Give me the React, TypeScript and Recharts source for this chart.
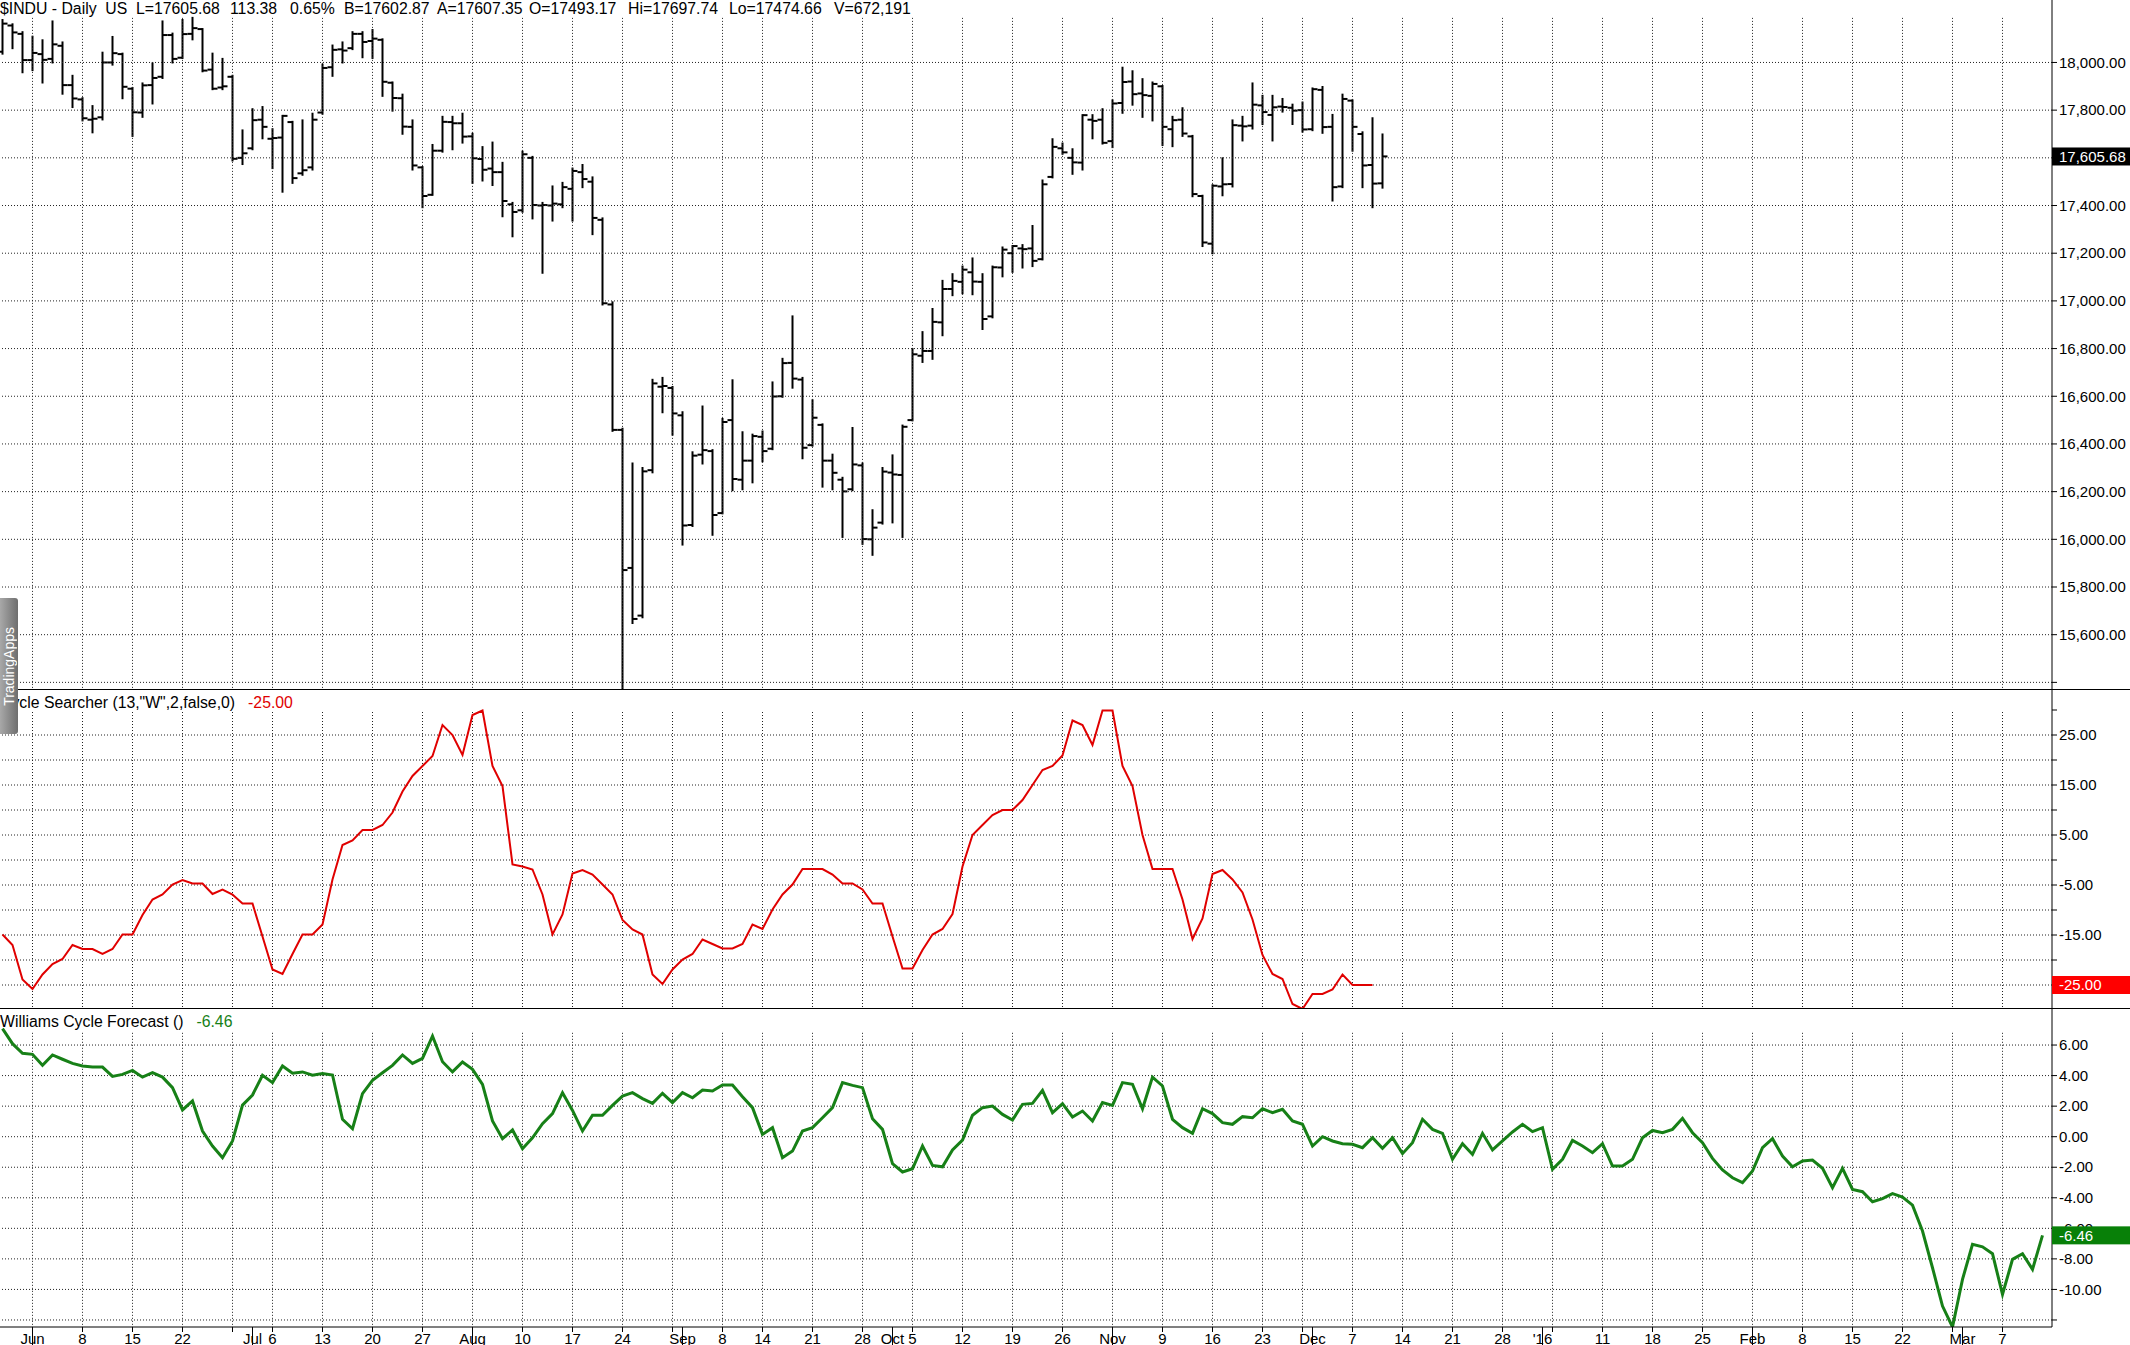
import React from "react";
import { ComposedChart, Bar, Line, XAxis, YAxis, ReferenceLine } from "recharts";

// trading-day index: 0 = Jun 1 2015, series start three sessions earlier
const FIRST_DAY = -3;

const opens = [
  18045, 18155, 18120, 18010, 18035, 18015, 18070, 17905, 17845, 17760, 17770, 18000, 18035, 17890, 17790, 17905, 17940, 18115, 18020, 18120,
  18140, 17970, 17895, 17940, 17600, 17640, 17760, 17680, 17685, 17750, 17535, 17560, 17790, 17980, 18055, 18060, 18120, 18090, 18095, 17915,
  17850, 17730, 17560, 17445, 17630, 17750, 17745, 17690, 17595, 17555, 17540, 17405, 17380, 17600, 17400, 17400, 17405, 17470, 17540, 17500,
  17340, 16985, 16459, 15880, 15680, 16290, 16640, 16635, 16520, 16060, 16355, 16370, 16110, 16500, 16250, 16330, 16430, 16380, 16600, 16740,
  16670, 16395, 16480, 16330, 16250, 16210, 16310, 16000, 16070, 16280, 16270, 16500, 16770, 16790, 16910, 17050, 17080, 17120, 17080, 16935,
  17140, 17200, 17220, 17220, 17175, 17520, 17640, 17600, 17580, 17760, 17760, 17670, 17830, 17920, 17870, 17860, 17900, 17720, 17760, 17690,
  17440, 17240, 17480, 17490, 17735, 17735, 17820, 17780, 17815, 17810, 17800, 17720, 17885, 17730, 17480, 17840, 17700, 17570, 17493,
];
const highs = [
  18178, 18160, 18127, 18108, 18093, 18172, 18084, 17944, 17850, 17817, 18041, 18107, 18037, 17893, 17912, 17996, 18172, 18121, 18178, 18187,
  18140, 18037, 18015, 17944, 17715, 17804, 17813, 17720, 17776, 17751, 17757, 17785, 17991, 18071, 18084, 18127, 18127, 18136, 18097, 17916,
  17865, 17757, 17561, 17654, 17772, 17772, 17785, 17701, 17645, 17664, 17579, 17411, 17626, 17604, 17411, 17480, 17495, 17555, 17570, 17518,
  17346, 16994, 16464, 16318, 16299, 16669, 16677, 16639, 16533, 16365, 16557, 16374, 16505, 16667, 16449, 16439, 16452, 16658, 16757, 16935,
  16677, 16583, 16482, 16355, 16258, 16467, 16318, 16122, 16299, 16352, 16477, 16798, 16869, 16966, 17084, 17112, 17144, 17178, 17112, 17144,
  17224, 17230, 17234, 17314, 17505, 17678, 17660, 17636, 17779, 17779, 17804, 17841, 17978, 17963, 17930, 17916, 17901, 17772, 17808, 17692,
  17441, 17485, 17598, 17757, 17772, 17912, 17860, 17860, 17847, 17823, 17832, 17891, 17897, 17780, 17865, 17841, 17707, 17766, 17698,
];
const lows = [
  18037, 18060, 17959, 17968, 17916, 18000, 17869, 17813, 17757, 17707, 17761, 17991, 17850, 17692, 17772, 17828, 17935, 18000, 18019, 18097,
  17963, 17888, 17888, 17589, 17574, 17636, 17682, 17557, 17458, 17495, 17529, 17551, 17785, 17944, 18000, 18056, 18022, 18019, 17860, 17798,
  17701, 17551, 17393, 17445, 17626, 17636, 17664, 17495, 17505, 17486, 17355, 17271, 17374, 17346, 17118, 17337, 17393, 17337, 17477, 17280,
  16985, 16455, 15370, 15649, 15673, 16281, 16533, 16439, 15978, 16056, 16318, 16019, 16109, 16206, 16210, 16239, 16327, 16378, 16598, 16636,
  16340, 16393, 16221, 16210, 16010, 16206, 15981, 15935, 16066, 16071, 16010, 16499, 16744, 16757, 16856, 17024, 17032, 17028, 16882, 16931,
  17103, 17122, 17140, 17146, 17174, 17518, 17617, 17533, 17551, 17682, 17660, 17645, 17789, 17823, 17772, 17757, 17654, 17649, 17692, 17439,
  17230, 17200, 17443, 17480, 17673, 17723, 17742, 17673, 17794, 17742, 17710, 17716, 17705, 17421, 17477, 17630, 17477, 17393, 17475,
];
const closes = [
  18163, 18126, 18010, 18040, 18011, 18076, 17905, 17849, 17766, 17764, 18000, 18039, 17898, 17791, 17904, 17935, 18115, 18015, 18119, 18144,
  17966, 17890, 17900, 17596, 17619, 17758, 17730, 17683, 17776, 17515, 17548, 17760, 17977, 18053, 18050, 18120, 18086, 18100, 17919, 17851,
  17731, 17568, 17440, 17630, 17751, 17745, 17689, 17598, 17550, 17540, 17419, 17373, 17615, 17402, 17402, 17408, 17477, 17545, 17511, 17348,
  16990, 16459, 15871, 15666, 16285, 16654, 16643, 16528, 16058, 16351, 16374, 16102, 16492, 16253, 16330, 16433, 16370, 16599, 16739, 16674,
  16384, 16510, 16330, 16279, 16201, 16314, 16001, 16049, 16284, 16272, 16472, 16776, 16790, 16912, 17050, 17084, 17131, 17081, 16924, 17141,
  17215, 17230, 17217, 17168, 17489, 17646, 17623, 17581, 17779, 17755, 17663, 17828, 17918, 17867, 17863, 17910, 17730, 17758, 17702, 17448,
  17245, 17483, 17489, 17737, 17732, 17823, 17792, 17812, 17813, 17798, 17719, 17888, 17729, 17477, 17847, 17730, 17568, 17492, 17606,
];

const cycleSearcher = [
  -14.9, -17, -23.9, -25.8, -22.9, -20.8, -19.8, -17, -17.8, -17.8, -18.8, -17.8, -14.9, -14.9, -11, -7.9, -6.9, -4.9, -4, -4.7,
  -4.7, -6.8, -5.9, -6.9, -8.7, -8.7, -15.3, -21.9, -22.8, -18.8, -14.9, -14.9, -12.9, -3.9, 3, 3.9, 6, 6, 7, 9.5,
  13.7, 16.8, 18.8, 20.8, 27, 25, 21, 29, 29.9, 18.8, 14.8, -0.9, -1.3, -1.9, -6.9, -14.9, -10.9, -2.7, -2, -2.9,
  -4.9, -6.9, -12, -13.9, -14.9, -22.9, -24.8, -21.9, -19.9, -18.8, -15.9, -16.8, -17.7, -17.7, -16.8, -12.9, -13.8, -9.9, -6.9, -4.9,
  -1.8, -1.8, -1.8, -2.9, -4.7, -4.7, -5.9, -8.7, -8.7, -15.3, -21.7, -21.7, -18, -14.9, -13.8, -10.8, -1.3, 5, 7, 9,
  10, 10, 12, 15, 18, 18.8, 20.9, 27.9, 27, 23, 29.9, 29.9, 18.8, 14.8, 5, -1.8, -1.8, -1.8, -7.9, -15.8,
  -11.7, -2.8, -2, -3.9, -6.5, -11.9, -19, -22.8, -23.8, -28.8, -29.8, -26.8, -26.8, -25.9, -22.9, -25, -25, -25,
];

const cycleForecast = [
  7.07, 6.09, 5.46, 5.39, 4.67, 5.35, 5.07, 4.8, 4.63, 4.56, 4.56, 3.95, 4.08, 4.34, 3.9, 4.19, 3.9, 3.21, 1.75, 2.34,
  0.37, -0.61, -1.38, -0.28, 2.07, 2.73, 4.02, 3.54, 4.63, 4.15, 4.24, 4.02, 4.13, 4.04, 1.14, 0.52, 2.82, 3.69, 4.19, 4.67,
  5.35, 4.8, 5.13, 6.59, 4.91, 4.24, 4.89, 4.41, 3.43, 1.03, -0.13, 0.44, -0.79, -0.07, 0.85, 1.51, 2.88, 1.72, 0.37, 1.4,
  1.4, 2.05, 2.66, 2.88, 2.49, 2.18, 2.84, 2.23, 2.88, 2.55, 3.06, 2.99, 3.38, 3.38, 2.62, 1.9, 0.15, 0.59, -1.38, -0.94,
  0.37, 0.59, 1.24, 1.9, 3.54, 3.36, 3.21, 1.18, 0.48, -1.77, -2.31, -2.1, -0.61, -1.88, -1.97, -0.87, -0.22, 1.4, 1.9, 2.01,
  1.46, 1.09, 2.12, 2.18, 3.03, 1.57, 2.16, 1.29, 1.68, 1.03, 2.23, 2.05, 3.54, 3.43, 1.83, 3.9, 3.32, 1.14, 0.59, 0.22,
  1.83, 1.51, 0.92, 0.81, 1.31, 1.24, 1.83, 1.57, 1.79, 1.03, 0.81, -0.61, 0, -0.28, -0.46, -0.5, -0.72, -0.07, -0.76, -0.07,
  -1.11, -0.39, 1.14, 0.48, 0.22, -1.48, -0.46, -1.16, 0.22, -0.87, -0.28, 0.31, 0.81, 0.33, 0.59, -2.14, -1.48, -0.24, -0.61, -1.05,
  -0.46, -1.92, -1.92, -1.48, -0.07, 0.41, 0.26, 0.48, 1.2, 0.26, -0.39, -1.42, -2.18, -2.69, -3.01, -2.25, -0.72, -0.13, -1.27, -1.97,
  -1.59, -1.53, -2.07, -3.34, -2.07, -3.45, -3.6, -4.26, -4.06, -3.73, -3.95, -4.48, -6.18, -8.58, -11.09, -12.46, -9.34, -7.05, -7.21, -7.66,
  -10.33, -8.03, -7.66, -8.69, -6.46,
];

// first session of each week (vertical grid)
const weekStarts = [0, 5, 10, 15, 20, 24, 29, 34, 39, 44, 49, 54, 59, 64, 69, 73, 78, 83, 88, 93, 98, 103, 108, 113, 118, 123, 127, 132, 137, 142, 147, 152, 157, 162, 167, 172, 177, 182, 187, 192, 197];
const monthStarts = [0, 22, 44, 65, 86, 108, 128, 151, 172, 193];
const axisTickDays = [0, 5, 10, 15, 22, 24, 29, 34, 39, 44, 49, 54, 59, 65, 69, 73, 78, 83, 86, 88, 93, 98, 103, 108, 113, 118, 123, 128, 132, 137, 142, 147, 151, 157, 162, 167, 172, 177, 182, 187, 193, 197];
const axisTickLabels = ["Jun", "8", "15", "22", "Jul", "6", "13", "20", "27", "Aug", "10", "17", "24", "Sep", "8", "14", "21", "28", "Oct", "5", "12", "19", "26", "Nov", "9", "16", "23", "Dec", "7", "14", "21", "28", "'16", "11", "18", "25", "Feb", "8", "15", "22", "Mar", "7"];

const priceGrid = [15400, 15600, 15800, 16000, 16200, 16400, 16600, 16800, 17000, 17200, 17400, 17600, 17800, 18000];
const priceLabels = [15600, 15800, 16000, 16200, 16400, 16600, 16800, 17000, 17200, 17400, 17600, 17800, 18000];
const csGrid = [-25, -20, -15, -10, -5, 0, 5, 10, 15, 20, 25];
const csTicks = [-20, -15, -10, -5, 0, 5, 10, 15, 20, 25, 30, -25];
const csLabels = [-25, -15, -5, 5, 15, 25];
const wcfGrid = [-12, -10, -8, -6, -4, -2, 0, 2, 4, 6];
const wcfLabels = [-10, -8, -6, -4, -2, 0, 2, 4, 6];

const LAST_PRICE = 17605.68;
const LAST_CS = -25;
const LAST_WCF = -6.46;

const headerFields = ["$INDU - Daily  US", "L=17605.68", "113.38", "0.65%", "B=17602.87", "A=17607.35", "O=17493.17", "Hi=17697.74", "Lo=17474.66", "V=672,191"];
const headerX = [0, 136, 230, 290, 344, 437, 529, 628, 729, 834];

const X_DOMAIN: [number, number] = [-3.25, 201.95];
const FONT = "'Liberation Sans', Arial, sans-serif";
const GRID = "#222";
const RED = "#e00000";
const GREEN = "#178017";

const priceData = opens.map((o, k) => ({ day: FIRST_DAY + k, o, h: highs[k], l: lows[k], c: closes[k] }));
const csData = cycleSearcher.map((v, k) => ({ day: FIRST_DAY + k, v }));
const wcfData = cycleForecast.map((v, k) => ({ day: FIRST_DAY + k, v }));
const xTicks = Array.from(new Set([...weekStarts, ...monthStarts, ...axisTickDays])).sort((a, b) => a - b);

const fmt = (v: number) => v.toLocaleString("en-US", { minimumFractionDigits: 2, maximumFractionDigits: 2 });

function OhlcBar(props: any) {
  const { x, y, width, height, payload } = props;
  if (x == null || !payload) return null;
  const cx = x + width / 2;
  const top = Math.min(y, y + height);
  const bottom = Math.max(y, y + height);
  const span = payload.h - payload.l || 1;
  const at = (v: number) => top + ((payload.h - v) / span) * (bottom - top);
  return (
    <g stroke="#000" strokeWidth={2}>
      <line x1={cx} x2={cx} y1={top - 1} y2={bottom + 1} />
      <line x1={cx - 5} x2={cx} y1={at(payload.o)} y2={at(payload.o)} />
      <line x1={cx} x2={cx + 5} y1={at(payload.c)} y2={at(payload.c)} />
    </g>
  );
}

function yTick(labels: number[], marker: number, fill: string) {
  return (props: any) => {
    const { x, y, payload } = props;
    const v = payload.value;
    if (v === marker) {
      return (
        <g>
          <rect x={x - 7} y={y - 9} width={80} height={18} fill={fill} />
          <text x={x} y={y} dy="0.35em" fill="#fff" fontSize={15} fontFamily={FONT}>{fmt(v)}</text>
        </g>
      );
    }
    if (!labels.includes(v)) return <g />;
    return (
      <text x={x} y={y} dy="0.35em" fill="#000" fontSize={15} fontFamily={FONT}>{fmt(v)}</text>
    );
  };
}

function XTick(props: any) {
  const { x, y, payload } = props;
  const d = payload.value;
  const k = axisTickDays.indexOf(d);
  const tall = monthStarts.includes(d);
  return (
    <g>
      <line x1={x} x2={x} y1={y} y2={y + (tall ? 18 : 5)} stroke="#000" />
      {k >= 0 && (
        <text x={x} y={y + 17} textAnchor="middle" fontSize={15} fontFamily={FONT} fill="#000">{axisTickLabels[k]}</text>
      )}
    </g>
  );
}

function grid(values: number[], top: number, bottom: number) {
  return [
    ...values.map((v) => (
      <ReferenceLine key={"h" + v} y={v} stroke={GRID} strokeDasharray="1 2" ifOverflow="visible" />
    )),
    ...weekStarts.map((d) => (
      <ReferenceLine key={"v" + d} segment={[{ x: d, y: top }, { x: d, y: bottom }]} stroke={GRID} strokeDasharray="1 2" ifOverflow="visible" />
    )),
  ];
}

const W = 2130;
const M = { top: 0, right: 0, bottom: 0, left: 0 };
const axisProps = { orientation: "right" as const, width: 78, stroke: "#000", tickSize: 5, tickMargin: 2, interval: 0 as const, allowDataOverflow: true, type: "number" as const };
const titleStyle: React.CSSProperties = { position: "absolute", left: 0, fontSize: 15.8, lineHeight: "17px", whiteSpace: "pre", display: "flex", gap: 13 };

export default function App() {
  return (
    <div style={{ position: "relative", width: W, height: 1345, overflow: "hidden", background: "#fff", fontFamily: FONT }}>
      <style>{"body{margin:0}"}</style>

      <div style={{ position: "absolute", left: 0, top: 0 }}>
        <ComposedChart width={W} height={690} data={priceData} margin={M}>
          <XAxis dataKey="day" type="number" domain={X_DOMAIN} allowDataOverflow hide />
          <YAxis {...axisProps} domain={[15368, 18262]} ticks={[...priceGrid, LAST_PRICE]} tick={yTick(priceLabels, LAST_PRICE, "#000")} />
          {grid(priceGrid, 18187, 15368)}
          <Bar dataKey={(d: any) => [d.l, d.h]} barSize={8} shape={OhlcBar} isAnimationActive={false} />
        </ComposedChart>
      </div>

      <div style={{ position: "absolute", left: 0, top: 690 }}>
        <ComposedChart width={W} height={319} data={csData} margin={M}>
          <XAxis dataKey="day" type="number" domain={X_DOMAIN} allowDataOverflow hide />
          <YAxis {...axisProps} domain={[-29.8, 34]} ticks={csTicks} tick={yTick(csLabels, LAST_CS, "#ff0000")} />
          {grid(csGrid, 29.6, -29.8)}
          <Line dataKey="v" type="linear" stroke={RED} strokeWidth={2} dot={false} isAnimationActive={false} />
        </ComposedChart>
      </div>

      <div style={{ position: "absolute", left: 0, top: 1009 }}>
        <ComposedChart width={W} height={336} data={wcfData} margin={M}>
          <XAxis dataKey="day" type="number" domain={X_DOMAIN} allowDataOverflow height={18} ticks={xTicks} interval={0} tickLine={false} tickSize={0} tickMargin={0} stroke="#000" tick={XTick} />
          <YAxis {...axisProps} domain={[-12.46, 8.36]} ticks={[...wcfGrid, LAST_WCF]} tick={yTick(wcfLabels, LAST_WCF, "#088008")} />
          {grid(wcfGrid, 6.8, -12.46)}
          <Line dataKey="v" type="linear" stroke={GREEN} strokeWidth={3} dot={false} isAnimationActive={false} />
        </ComposedChart>
      </div>

      <div style={{ position: "absolute", left: 0, top: 689, width: W, height: 1, background: "#000" }} />
      <div style={{ position: "absolute", left: 0, top: 1008, width: W, height: 1, background: "#000" }} />

      {headerFields.map((t, k) => (
        <div key={t} style={{ position: "absolute", left: headerX[k], top: 0, fontSize: 15.8, lineHeight: "17px", whiteSpace: "pre" }}>{t}</div>
      ))}

      <div style={{ ...titleStyle, top: 694 }}>
        <span>Cycle Searcher (13,"W",2,false,0)</span>
        <span style={{ color: RED }}>-25.00</span>
      </div>
      <div style={{ ...titleStyle, top: 1013 }}>
        <span>Williams Cycle Forecast ()</span>
        <span style={{ color: GREEN }}>-6.46</span>
      </div>

      <div style={{ position: "absolute", left: 0, top: 598, width: 18, height: 136, background: "linear-gradient(to right, #a8a8a8, #6e6e6e)", borderRadius: "0 3px 3px 0", color: "#fff", fontSize: 14, display: "flex", alignItems: "center", justifyContent: "center", overflow: "hidden" }}>
        <span style={{ writingMode: "vertical-rl", transform: "rotate(180deg)", whiteSpace: "nowrap" }}>TradingApps</span>
      </div>
    </div>
  );
}
